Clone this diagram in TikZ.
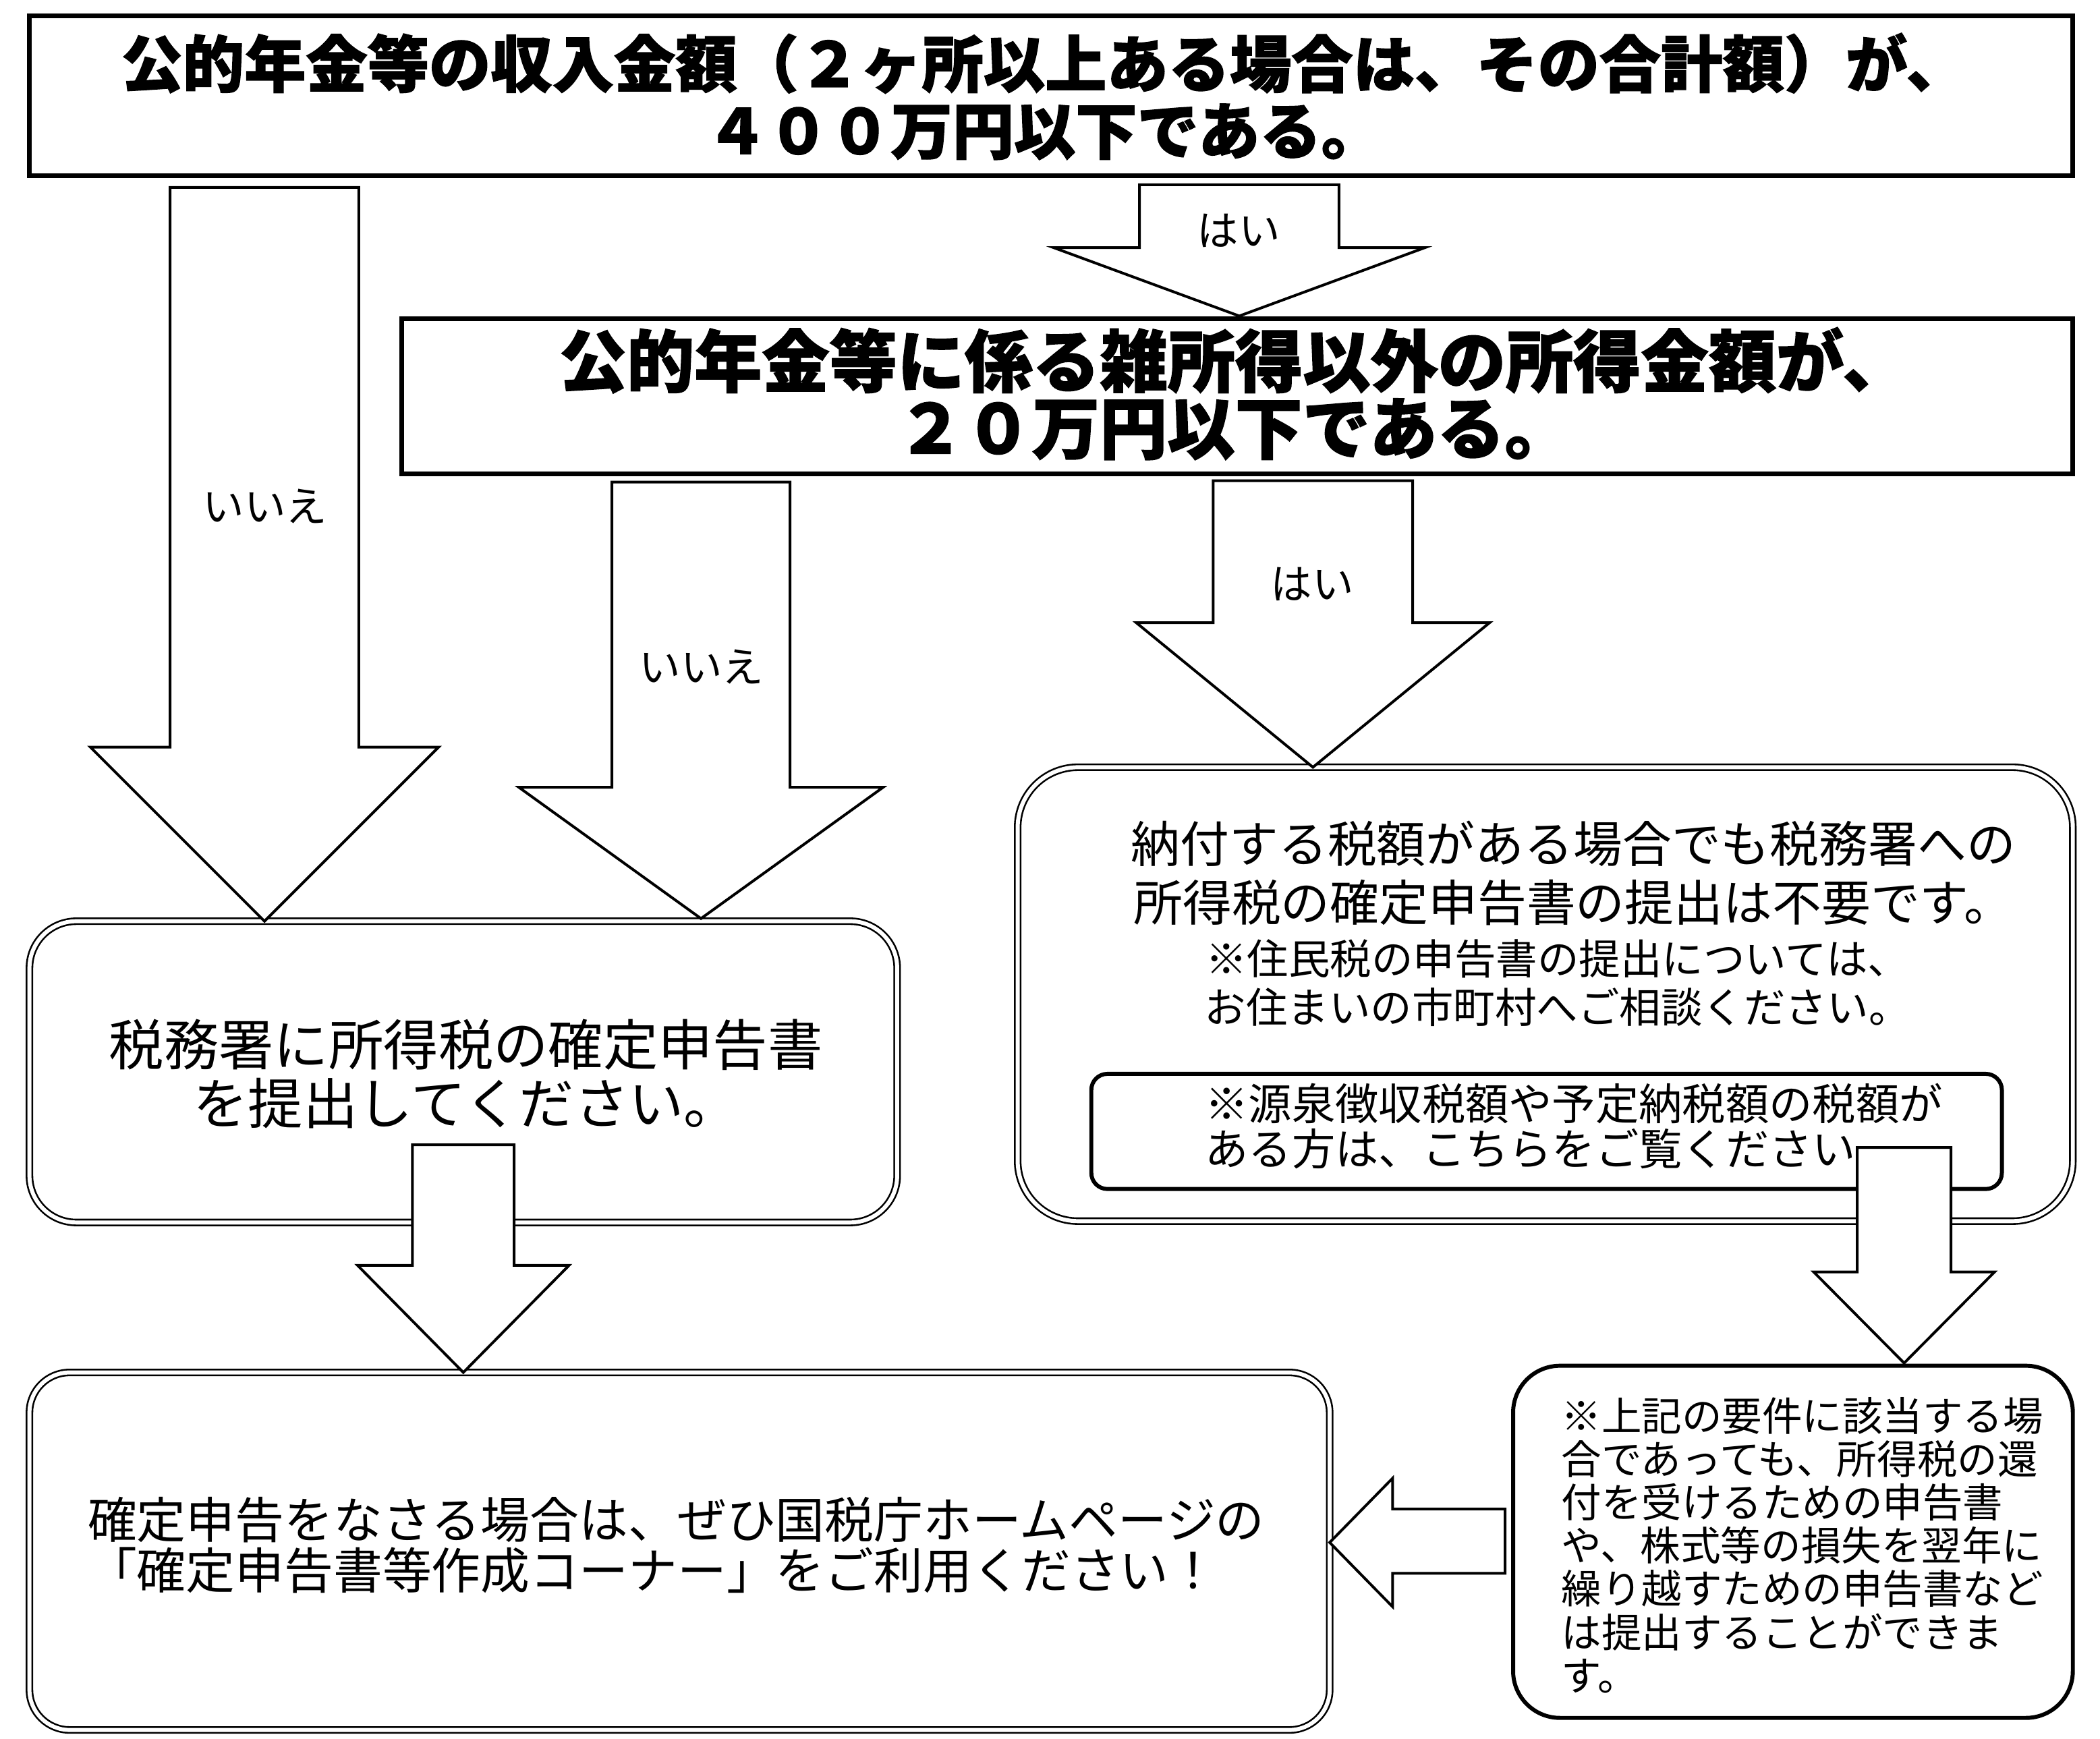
\documentclass[tikz,border=0pt]{standalone}
\usepackage{fontspec}
\newfontfamily\jp{Noto Sans CJK JP}
\newfontfamily\jph{Noto Sans CJK JP}[BoldFeatures={FakeBold=1.5}]
\newcommand\dnarrow[6]{% xc, top, half shaft, head base, half head, tip
  \draw[arrowline] (#1-#3,#2) -- (#1-#3,#4) -- (#1-#5,#4) -- (#1,#6) -- (#1+#5,#4) -- (#1+#3,#4) -- (#1+#3,#2) -- cycle;}
\begin{document}
\begin{tikzpicture}[x=1pt,y=-1pt,
  every node/.style={font=\jp, inner sep=0pt, outer sep=0pt},
  headbox/.style={draw, line width=3.5pt, fill=white, rectangle},
  dblbox/.style={draw, double, line width=1.3pt, double distance=3pt, rounded corners=#1, rectangle},
  thickbox/.style={draw, line width=3pt, rounded corners=#1, rectangle},
  arrowline/.style={draw, fill=white, line width=2pt, line join=miter},
  lbl/.style={font={\jp\fontsize{31}{34}\selectfont}}]
\useasboundingbox (0,0) rectangle (1568.3,1298.7);
\fill[white] (0,0) rectangle (1568.3,1298.7);

% question boxes
\node[headbox, minimum width=1526pt, minimum height=119pt] (q1) at (785,71.5) {};
\node[align=center, font={\jph\bfseries\fontsize{46}{50}\selectfont}] (q1t) at (780,72)
  {公的年金等の収入金額（２ヶ所以上ある場合は、その合計額）が、\\４００万円以下である。};
\node[headbox, minimum width=1248pt, minimum height=116pt] (q2) at (924,296) {};
\node[align=center, font={\jph\bfseries\fontsize{50.5}{50}\selectfont}] (q2t) at (922,294)
  {公的年金等に係る雑所得以外の所得金額が、\\２０万円以下である。};

% answer boxes
\node[dblbox=35pt, minimum width=648pt, minimum height=225pt] (a1) at (346,800.5) {};
\node[align=center, font={\jp\fontsize{41}{44}\selectfont}] (a1t) at (348,802)
  {税務署に所得税の確定申告書\\を提出してください。};

\node[dblbox=45pt, minimum width=788pt, minimum height=339pt] (a2) at (1154,742.5) {};
\node[align=center, font={\jp\fontsize{36.7}{44}\selectfont}] (a2t) at (1175,652)
  {納付する税額がある場合でも税務署への\\所得税の確定申告書の提出は不要です。};
\node[align=center, font={\jp\fontsize{31}{36}\selectfont}] (a2n) at (1163,734)
  {※住民税の申告書の提出については、\\お住まいの市町村へご相談ください。};
\node[thickbox=12pt, minimum width=680pt, minimum height=86pt] (a2b) at (1155,845) {};
\node[align=left, anchor=west, font={\jp\fontsize{32.4}{34}\selectfont}] (a2bt) at (900,841)
  {※源泉徴収税額や予定納税額の税額が\\ある方は、こちらをご覧ください};

\node[dblbox=30pt, minimum width=971pt, minimum height=267pt] (a3) at (507.5,1158.5) {};
\node[align=left, font={\jp\fontsize{36.7}{38}\selectfont}] (a3t) at (505,1154)
  {確定申告をなさる場合は、ぜひ国税庁ホームページの\\「確定申告書等作成コーナー」をご利用ください！};

\node[thickbox=35pt, minimum width=418pt, minimum height=263pt] (a4) at (1339,1151.5) {};
\node[align=left, anchor=west, font={\jp\fontsize{30}{32.3}\selectfont}] (a4t) at (1166,1154)
  {※上記の要件に該当する場\\合であっても、所得税の還\\付を受けるための申告書\\や、株式等の損失を翌年に\\繰り越すための申告書など\\は提出することができま\\す。};

% block arrows
\dnarrow{925.5}{138}{74.5}{185}{138.5}{236}
\node[lbl] (l1) at (925,172) {はい};
\dnarrow{197.5}{140}{70.5}{558}{130}{688}
\node[lbl] (l2) at (198,378) {いいえ};
\dnarrow{523.5}{360}{66.5}{588}{136}{686}
\node[lbl] (l3) at (524,498) {いいえ};
\dnarrow{980.5}{359}{74.5}{465}{132}{573}
\node[lbl] (l4) at (980,436) {はい};
\dnarrow{346}{855}{38}{945}{79}{1025}
\dnarrow{1422}{857}{35}{950}{67.5}{1018}
\draw[arrowline] (1124,1127) -- (1040,1127) -- (1040,1104) -- (993,1152) -- (1040,1200) -- (1040,1175) -- (1124,1175) -- cycle;
\end{tikzpicture}
\end{document}
